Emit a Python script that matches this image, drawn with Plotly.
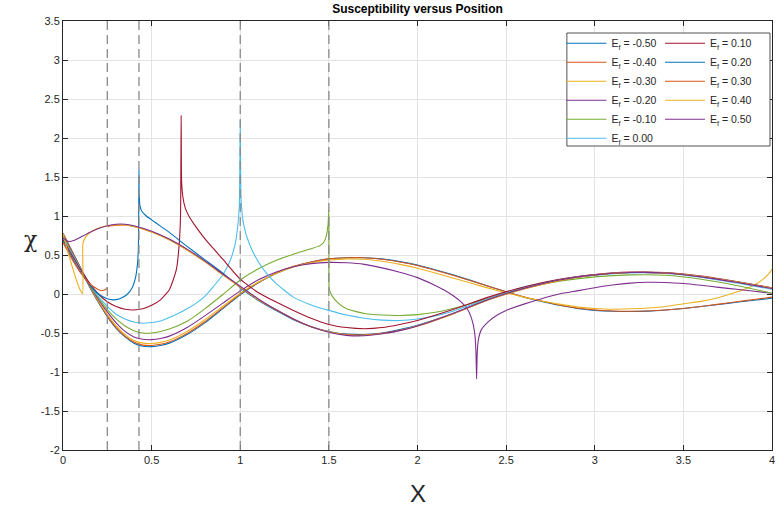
import plotly.graph_objects as go

# ---------------- data ----------------
E_values = [-0.5, -0.4, -0.3, -0.2, -0.1, 0.0, 0.1, 0.2, 0.3, 0.4, 0.5]
colors = ["#0072BD", "#D95319", "#EDB120", "#7E2F8E", "#77AC30", "#4DBEEE",
          "#A2142F", "#0072BD", "#D95319", "#EDB120", "#7E2F8E"]

x_grid = [0, 0.05, 0.1, 0.15, 0.2, 0.25, 0.3, 0.35, 0.4, 0.45, 0.5, 0.55, 0.6, 0.7, 0.8, 0.9,
          1.0, 1.1, 1.2, 1.3, 1.4, 1.5, 1.6, 1.7, 1.8, 1.9, 2.0, 2.1, 2.2, 2.3, 2.4, 2.5, 2.6,
          2.7, 2.8, 2.9, 3.0, 3.1, 3.2, 3.3, 3.4, 3.5, 3.6, 3.7, 3.8, 3.9, 4.0]

chi_m050 = [0.78, 0.55, 0.32, 0.09, -0.11, -0.29, -0.44, -0.55, -0.63, -0.67, -0.675, -0.66, -0.63,
            -0.52, -0.37, -0.19, -0.01, 0.14, 0.26, 0.35, 0.41, 0.45, 0.465, 0.465, 0.45, 0.415,
            0.37, 0.31, 0.245, 0.175, 0.10, 0.03, -0.04, -0.095, -0.145, -0.185, -0.21, -0.222,
            -0.225, -0.22, -0.205, -0.185, -0.16, -0.135, -0.105, -0.08, -0.055]

chi_m040 = [0.78, 0.555, 0.33, 0.10, -0.10, -0.28, -0.43, -0.54, -0.615, -0.655, -0.66, -0.645,
            -0.615, -0.505, -0.355, -0.18, 0.0, 0.145, 0.265, 0.355, 0.41, 0.45, 0.465, 0.465,
            0.445, 0.41, 0.365, 0.305, 0.24, 0.17, 0.10, 0.03, -0.035, -0.09, -0.14, -0.18,
            -0.205, -0.218, -0.222, -0.218, -0.205, -0.185, -0.16, -0.13, -0.10, -0.07, -0.04]

x_m030 = [0, 0.05, 0.1, 0.15, 0.2, 0.25, 0.3, 0.35, 0.4, 0.45, 0.5, 0.55, 0.6, 0.7, 0.8, 0.9,
          1.0, 1.1, 1.2, 1.3, 1.4, 1.5, 1.6, 1.7, 1.8, 1.9, 2.0, 2.1, 2.2, 2.3, 2.4, 2.5, 2.6,
          2.7, 2.8, 2.9, 3.0, 3.1, 3.2, 3.3, 3.4, 3.5, 3.6, 3.7, 3.8, 3.85, 3.9, 3.95, 3.98, 4.0]
chi_m030 = [0.77, 0.55, 0.33, 0.11, -0.09, -0.26, -0.41, -0.52, -0.595, -0.63, -0.635, -0.62,
            -0.59, -0.48, -0.33, -0.16, 0.01, 0.15, 0.26, 0.345, 0.40, 0.435, 0.45, 0.445, 0.42,
            0.38, 0.33, 0.27, 0.205, 0.14, 0.075, 0.015, -0.04, -0.09, -0.13, -0.165, -0.185,
            -0.195, -0.19, -0.18, -0.16, -0.125, -0.095, -0.045, 0.025, 0.065, 0.115, 0.19,
            0.255, 0.32]

x_m020 = [0, 0.05, 0.1, 0.15, 0.2, 0.25, 0.3, 0.35, 0.4, 0.45, 0.5, 0.55, 0.6, 0.7, 0.8, 0.9,
          1.0, 1.1, 1.2, 1.3, 1.4, 1.5, 1.6, 1.7, 1.8, 1.9, 2.0, 2.1, 2.15, 2.2, 2.25, 2.28, 2.3,
          2.315, 2.325, 2.33, 2.3333, 2.337, 2.343, 2.36, 2.4, 2.45, 2.5, 2.6, 2.7, 2.8, 2.9,
          3.0, 3.1, 3.2, 3.3, 3.4, 3.5, 3.6, 3.7, 3.8, 3.9, 4.0]
chi_m020 = [0.76, 0.545, 0.33, 0.12, -0.07, -0.23, -0.37, -0.48, -0.55, -0.58, -0.585, -0.57,
            -0.54, -0.43, -0.28, -0.12, 0.04, 0.18, 0.28, 0.35, 0.39, 0.405, 0.40, 0.38, 0.335,
            0.28, 0.21, 0.11, 0.05, -0.02, -0.11, -0.19, -0.28, -0.40, -0.55, -0.76, -1.09,
            -0.76, -0.59, -0.46, -0.355, -0.27, -0.21, -0.13, -0.06, 0.0, 0.04, 0.08, 0.115,
            0.14, 0.15, 0.148, 0.135, 0.112, 0.085, 0.06, 0.035, 0.01]

x_m010 = [0, 0.05, 0.1, 0.15, 0.2, 0.25, 0.3, 0.35, 0.4, 0.45, 0.5, 0.55, 0.6, 0.7, 0.8, 0.9,
          1.0, 1.1, 1.2, 1.3, 1.4, 1.45, 1.47, 1.485, 1.495, 1.5, 1.501, 1.505, 1.52, 1.55, 1.6,
          1.7, 1.8, 1.9, 2.0, 2.1, 2.2, 2.3, 2.4, 2.5, 2.6, 2.8, 3.0, 3.2, 3.4, 3.6, 3.8, 4.0]
chi_m010 = [0.74, 0.53, 0.32, 0.12, -0.05, -0.2, -0.32, -0.41, -0.47, -0.50, -0.50, -0.48,
            -0.45, -0.35, -0.19, -0.01, 0.18, 0.32, 0.43, 0.51, 0.58, 0.62, 0.66, 0.74, 0.88,
            1.08, 0.10, 0.04, -0.03, -0.11, -0.19, -0.25, -0.27, -0.275, -0.265, -0.235, -0.185,
            -0.125, -0.055, 0.015, 0.075, 0.165, 0.22, 0.245, 0.24, 0.19, 0.11, 0.01]

x_000 = [0, 0.05, 0.1, 0.15, 0.2, 0.25, 0.3, 0.35, 0.4, 0.45, 0.5, 0.55, 0.6, 0.65, 0.7, 0.75,
         0.8, 0.85, 0.9, 0.94, 0.97, 0.985, 0.995, 1.0, 1.005, 1.02, 1.05, 1.1, 1.15, 1.2, 1.3,
         1.4, 1.5, 1.6, 1.7, 1.8, 1.9, 2.0, 2.1, 2.2, 2.4, 2.5, 2.6, 2.8, 3.0, 3.2, 3.4, 3.6,
         3.8, 4.0]
chi_000 = [0.72, 0.52, 0.32, 0.13, -0.03, -0.16, -0.26, -0.32, -0.36, -0.375, -0.365, -0.345,
           -0.30, -0.25, -0.19, -0.12, -0.03, 0.10, 0.24, 0.41, 0.63, 0.85, 1.15, 2.23, 1.2,
           0.88, 0.65, 0.42, 0.26, 0.14, -0.04, -0.14, -0.21, -0.27, -0.31, -0.335, -0.34, -0.32,
           -0.28, -0.22, -0.06, 0.02, 0.09, 0.18, 0.24, 0.27, 0.265, 0.215, 0.14, 0.06]

x_p010 = [0, 0.05, 0.1, 0.15, 0.2, 0.25, 0.3, 0.35, 0.4, 0.45, 0.5, 0.55, 0.6, 0.62, 0.64,
          0.655, 0.663, 0.6667, 0.669, 0.676, 0.69, 0.71, 0.75, 0.8, 0.9, 1.0, 1.1, 1.2, 1.3,
          1.4, 1.5, 1.6, 1.7, 1.8, 1.9, 2.0, 2.2, 2.4, 2.6, 2.8, 3.0, 3.2, 3.4, 3.6, 3.8, 4.0]
chi_p010 = [0.70, 0.50, 0.31, 0.14, 0.0, -0.10, -0.16, -0.195, -0.205, -0.19, -0.145, -0.075,
            0.055, 0.17, 0.32, 0.62, 1.0, 2.29, 1.45, 1.25, 1.1, 1.0, 0.86, 0.71, 0.45, 0.19,
            0.02, -0.10, -0.21, -0.31, -0.39, -0.43, -0.445, -0.43, -0.39, -0.34, -0.20, -0.04,
            0.09, 0.19, 0.25, 0.28, 0.275, 0.23, 0.16, 0.08]

x_p020 = [0, 0.05, 0.1, 0.15, 0.2, 0.25, 0.28, 0.32, 0.36, 0.39, 0.41, 0.42, 0.425, 0.4286,
          0.4295, 0.435, 0.445, 0.47, 0.5, 0.55, 0.6, 0.7, 0.8, 0.9, 1.0, 1.1, 1.2, 1.3, 1.4,
          1.5, 1.6, 1.7, 1.8, 1.9, 2.0, 2.2, 2.4, 2.6, 2.8, 3.0, 3.2, 3.4, 3.6, 3.8, 4.0]
chi_p020 = [0.68, 0.47, 0.28, 0.12, 0.0, -0.06, -0.075, -0.06, -0.01, 0.08, 0.22, 0.38, 0.57,
            1.59, 1.3, 1.12, 1.06, 1.0, 0.95, 0.87, 0.79, 0.61, 0.44, 0.27, 0.08, -0.08, -0.21,
            -0.33, -0.42, -0.48, -0.515, -0.52, -0.50, -0.455, -0.40, -0.25, -0.07, 0.07, 0.18,
            0.245, 0.275, 0.27, 0.225, 0.155, 0.075]

# None = break of the curve at its singular point
x_p030 = [0, 0.05, 0.1, 0.15, 0.2, 0.22, 0.235, 0.245, 0.25, None, 0.2505, 0.27, 0.3, 0.35, 0.4,
          0.5, 0.6, 0.7, 0.8, 0.9, 1.0, 1.1, 1.2, 1.3, 1.4, 1.5, 1.6, 1.7, 1.8, 1.9, 2.0, 2.2,
          2.4, 2.6, 2.8, 3.0, 3.2, 3.4, 3.6, 3.8, 4.0]
chi_p030 = [0.66, 0.45, 0.27, 0.13, 0.055, 0.045, 0.05, 0.065, 0.085, None, 0.86, 0.875, 0.88,
            0.885, 0.865, 0.795, 0.695, 0.565, 0.415, 0.25, 0.09, -0.07, -0.20, -0.32, -0.42,
            -0.485, -0.52, -0.525, -0.505, -0.465, -0.41, -0.255, -0.075, 0.065, 0.175, 0.245,
            0.275, 0.27, 0.225, 0.155, 0.075]

x_p040 = [0, 0.02, 0.04, 0.06, 0.08, 0.095, 0.105, 0.111, 0.1115, 0.115, 0.125, 0.15, 0.2,
          0.25, 0.3, 0.35, 0.4, 0.5, 0.6, 0.7, 0.8, 0.9, 1.0, 1.1, 1.2, 1.3, 1.4, 1.5, 1.6,
          1.7, 1.8, 1.9, 2.0, 2.2, 2.4, 2.6, 2.8, 3.0, 3.2, 3.4, 3.6, 3.8, 4.0]
chi_p040 = [0.77, 0.60, 0.44, 0.29, 0.15, 0.06, 0.02, 0.005, 0.63, 0.67, 0.72, 0.785, 0.845,
            0.875, 0.885, 0.885, 0.865, 0.795, 0.695, 0.565, 0.415, 0.25, 0.09, -0.07, -0.20,
            -0.32, -0.42, -0.487, -0.525, -0.53, -0.51, -0.468, -0.41, -0.255, -0.075, 0.065,
            0.175, 0.245, 0.275, 0.27, 0.225, 0.155, 0.075]

x_p050 = [0, 0.03, 0.06, 0.1, 0.15, 0.2, 0.25, 0.3, 0.35, 0.4, 0.5, 0.6, 0.7, 0.8, 0.9, 1.0,
          1.1, 1.2, 1.3, 1.4, 1.5, 1.6, 1.7, 1.8, 1.9, 2.0, 2.2, 2.4, 2.6, 2.8, 3.0, 3.2, 3.4,
          3.6, 3.8, 4.0]
chi_p050 = [0.72, 0.675, 0.685, 0.73, 0.79, 0.84, 0.875, 0.895, 0.895, 0.875, 0.805, 0.705,
            0.575, 0.425, 0.26, 0.10, -0.06, -0.20, -0.32, -0.42, -0.49, -0.53, -0.535, -0.51,
            -0.47, -0.41, -0.25, -0.07, 0.07, 0.18, 0.245, 0.275, 0.27, 0.22, 0.15, 0.07]

series_x = [x_grid, x_grid, x_m030, x_m020, x_m010, x_000, x_p010, x_p020, x_p030, x_p040, x_p050]
series_y = [chi_m050, chi_m040, chi_m030, chi_m020, chi_m010, chi_000, chi_p010, chi_p020,
            chi_p030, chi_p040, chi_p050]

dashed_x = [0.25, 0.4286, 1.0, 1.5]

x_ticks = [0, 0.5, 1, 1.5, 2, 2.5, 3, 3.5, 4]
x_ticktext = ["0", "0.5", "1", "1.5", "2", "2.5", "3", "3.5", "4"]
y_ticks = [-2, -1.5, -1, -0.5, 0, 0.5, 1, 1.5, 2, 2.5, 3, 3.5]
y_ticktext = ["-2", "-1.5", "-1", "-0.5", "0", "0.5", "1", "1.5", "2", "2.5", "3", "3.5"]

# ---------------- figure ----------------
FONT = "Liberation Sans, Arial, sans-serif"
AX = "#262626"

fig = go.Figure()
for i, (E, c, xs, ys) in enumerate(zip(E_values, colors, series_x, series_y)):
    fig.add_trace(go.Scatter(
        x=xs, y=ys, mode="lines",
        line=dict(color=c, width=1.1, shape="spline", smoothing=0.5),
        name="E<sub>f</sub> = %.2f" % E,
        legend="legend" if E <= 0 else "legend2",
        connectgaps=False,
        hoverinfo="skip",
    ))

for xv in dashed_x:
    fig.add_shape(type="line", xref="x", yref="paper", x0=xv, x1=xv, y0=0, y1=1,
                  line=dict(color="#8a8a8a", width=1.3, dash="9px,5px"), layer="above")

# legend box
fig.add_shape(type="rect", xref="paper", yref="paper", x0=0.7107, x1=0.9972, y0=0.7086, y1=0.972,
              fillcolor="white", line=dict(color=AX, width=0.8), layer="above")

legend_common = dict(bgcolor="rgba(0,0,0,0)", borderwidth=0, xanchor="left", yanchor="top",
                     font=dict(family=FONT, size=10.5, color=AX), tracegroupgap=0,
                     itemwidth=40, itemclick=False, itemdoubleclick=False)

fig.update_layout(
    width=776, height=507,
    margin=dict(l=63, r=1, t=21, b=57),
    paper_bgcolor="white", plot_bgcolor="white",
    showlegend=True,
    legend=dict(x=0.703, y=0.982, **legend_common),
    legend2=dict(x=0.842, y=0.982, **legend_common),
    title=dict(text="<b>Susceptibility versus Position</b>", x=0.5, xref="paper",
               y=1 - 9 / 507, yanchor="middle",
               font=dict(family=FONT, size=12, color="#000000")),
    xaxis=dict(range=[0, 4], tickvals=x_ticks, ticktext=x_ticktext, showgrid=True,
               gridcolor="#e3e3e3", gridwidth=1, zeroline=False, showline=True,
               linecolor=AX, linewidth=1, mirror="ticks", ticks="inside", ticklen=5,
               tickcolor=AX, ticklabeloverflow="allow",
               tickfont=dict(family=FONT, size=11, color=AX)),
    yaxis=dict(range=[-2, 3.5], tickvals=y_ticks, ticktext=y_ticktext, showgrid=True,
               gridcolor="#e3e3e3", gridwidth=1, zeroline=False, showline=True,
               linecolor=AX, linewidth=1, mirror="ticks", ticks="inside", ticklen=5,
               tickcolor=AX, tickfont=dict(family=FONT, size=11, color=AX)),
    annotations=[
        dict(text="X", xref="paper", yref="paper", x=0.5, y=(450 - 493) / 429,
             xanchor="center", yanchor="middle", showarrow=False,
             font=dict(family=FONT, size=24, color=AX)),
        dict(text="χ", xref="paper", yref="paper", x=(30 - 63) / 712, y=(450 - 240) / 429,
             xanchor="center", yanchor="middle", showarrow=False,
             font=dict(family="DejaVu Serif, serif", size=22, color=AX)),
    ],
)

fig.write_html("out.html", config={"displayModeBar": False},
               post_script="document.body.style.margin='0px';document.body.style.overflow='hidden';")
